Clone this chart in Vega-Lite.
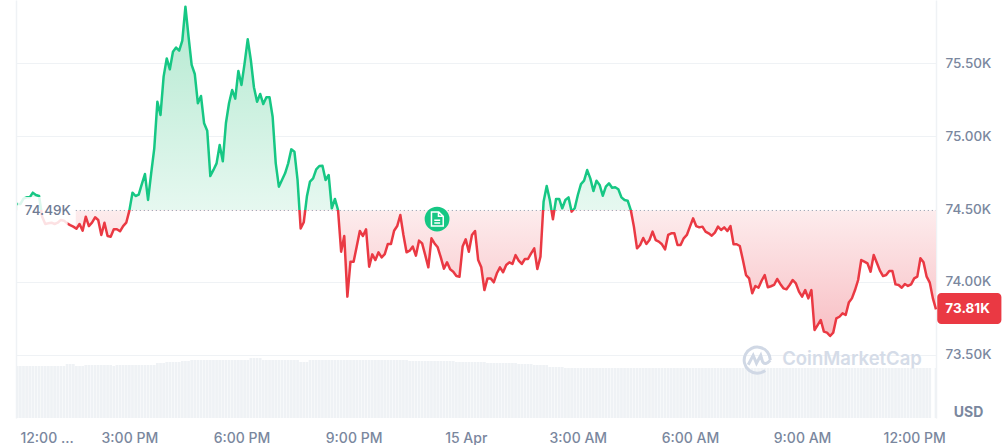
{
  "$schema": "https://vega.github.io/schema/vega-lite/v6.json",
  "width": 920,
  "height": 418,
  "padding": {"left": 16, "top": 0, "right": 70, "bottom": 27},
  "autosize": "none",
  "background": "white",
  "config": {"view": {"stroke": null}, "font": "Inter"},
  "data": {"values": [
    {"t":"2026-04-14T12:00","p":74534,"v":52},{"t":"2026-04-14T12:05","p":74534,"v":52},{"t":"2026-04-14T12:10","p":74571,"v":52},{"t":"2026-04-14T12:15","p":74580,"v":52},
    {"t":"2026-04-14T12:20","p":74580,"v":52},{"t":"2026-04-14T12:25","p":74612,"v":52},{"t":"2026-04-14T12:30","p":74596,"v":52},{"t":"2026-04-14T12:35","p":74589,"v":52},
    {"t":"2026-04-14T12:40","p":74447,"v":52},{"t":"2026-04-14T12:45","p":74397,"v":52},{"t":"2026-04-14T12:50","p":74402,"v":52},{"t":"2026-04-14T12:55","p":74406,"v":52},
    {"t":"2026-04-14T13:00","p":74397,"v":52},{"t":"2026-04-14T13:05","p":74406,"v":52},{"t":"2026-04-14T13:10","p":74425,"v":52},{"t":"2026-04-14T13:15","p":74420,"v":52},
    {"t":"2026-04-14T13:20","p":74402,"v":54},{"t":"2026-04-14T13:25","p":74390,"v":54},{"t":"2026-04-14T13:30","p":74379,"v":54},{"t":"2026-04-14T13:35","p":74365,"v":52},
    {"t":"2026-04-14T13:40","p":74397,"v":52},{"t":"2026-04-14T13:45","p":74351,"v":52},{"t":"2026-04-14T13:50","p":74447,"v":53},{"t":"2026-04-14T13:55","p":74383,"v":53},
    {"t":"2026-04-14T14:00","p":74406,"v":53},{"t":"2026-04-14T14:05","p":74443,"v":53},{"t":"2026-04-14T14:10","p":74425,"v":53},{"t":"2026-04-14T14:15","p":74322,"v":53},
    {"t":"2026-04-14T14:20","p":74406,"v":53},{"t":"2026-04-14T14:25","p":74315,"v":53},{"t":"2026-04-14T14:30","p":74310,"v":53},{"t":"2026-04-14T14:35","p":74361,"v":52},
    {"t":"2026-04-14T14:40","p":74361,"v":53},{"t":"2026-04-14T14:45","p":74347,"v":53},{"t":"2026-04-14T14:50","p":74383,"v":53},{"t":"2026-04-14T14:55","p":74406,"v":53},
    {"t":"2026-04-14T15:00","p":74489,"v":53},{"t":"2026-04-14T15:05","p":74612,"v":53},{"t":"2026-04-14T15:10","p":74589,"v":53},{"t":"2026-04-14T15:15","p":74598,"v":53},
    {"t":"2026-04-14T15:20","p":74671,"v":53},{"t":"2026-04-14T15:25","p":74740,"v":53},{"t":"2026-04-14T15:30","p":74562,"v":53},{"t":"2026-04-14T15:35","p":74745,"v":53},
    {"t":"2026-04-14T15:40","p":74916,"v":53},{"t":"2026-04-14T15:45","p":75236,"v":55},{"t":"2026-04-14T15:50","p":75145,"v":55},{"t":"2026-04-14T15:55","p":75408,"v":55},
    {"t":"2026-04-14T16:00","p":75533,"v":56},{"t":"2026-04-14T16:05","p":75458,"v":56},{"t":"2026-04-14T16:10","p":75579,"v":56},{"t":"2026-04-14T16:15","p":75607,"v":56},
    {"t":"2026-04-14T16:20","p":75586,"v":56},{"t":"2026-04-14T16:25","p":75655,"v":57},{"t":"2026-04-14T16:30","p":75888,"v":57},{"t":"2026-04-14T16:35","p":75682,"v":57},
    {"t":"2026-04-14T16:40","p":75488,"v":58},{"t":"2026-04-14T16:45","p":75426,"v":58},{"t":"2026-04-14T16:50","p":75225,"v":58},{"t":"2026-04-14T16:55","p":75275,"v":58},
    {"t":"2026-04-14T17:00","p":75088,"v":58},{"t":"2026-04-14T17:05","p":75037,"v":58},{"t":"2026-04-14T17:10","p":74726,"v":58},{"t":"2026-04-14T17:15","p":74768,"v":58},
    {"t":"2026-04-14T17:20","p":74813,"v":58},{"t":"2026-04-14T17:25","p":74939,"v":58},{"t":"2026-04-14T17:30","p":74827,"v":58},{"t":"2026-04-14T17:35","p":75088,"v":58},
    {"t":"2026-04-14T17:40","p":75225,"v":58},{"t":"2026-04-14T17:45","p":75316,"v":58},{"t":"2026-04-14T17:50","p":75257,"v":58},{"t":"2026-04-14T17:55","p":75447,"v":58},
    {"t":"2026-04-14T18:00","p":75351,"v":58},{"t":"2026-04-14T18:05","p":75499,"v":58},{"t":"2026-04-14T18:10","p":75664,"v":58},{"t":"2026-04-14T18:15","p":75522,"v":60},
    {"t":"2026-04-14T18:20","p":75335,"v":60},{"t":"2026-04-14T18:25","p":75236,"v":60},{"t":"2026-04-14T18:30","p":75289,"v":60},{"t":"2026-04-14T18:35","p":75220,"v":58},
    {"t":"2026-04-14T18:40","p":75266,"v":58},{"t":"2026-04-14T18:45","p":75266,"v":58},{"t":"2026-04-14T18:50","p":75133,"v":58},{"t":"2026-04-14T18:55","p":74813,"v":58},
    {"t":"2026-04-14T19:00","p":74653,"v":58},{"t":"2026-04-14T19:05","p":74699,"v":58},{"t":"2026-04-14T19:10","p":74745,"v":58},{"t":"2026-04-14T19:15","p":74813,"v":58},
    {"t":"2026-04-14T19:20","p":74909,"v":58},{"t":"2026-04-14T19:25","p":74893,"v":58},{"t":"2026-04-14T19:30","p":74699,"v":58},{"t":"2026-04-14T19:35","p":74367,"v":56},
    {"t":"2026-04-14T19:40","p":74409,"v":56},{"t":"2026-04-14T19:45","p":74585,"v":56},{"t":"2026-04-14T19:50","p":74688,"v":58},{"t":"2026-04-14T19:55","p":74710,"v":58},
    {"t":"2026-04-14T20:00","p":74772,"v":58},{"t":"2026-04-14T20:05","p":74795,"v":58},{"t":"2026-04-14T20:10","p":74797,"v":58},{"t":"2026-04-14T20:15","p":74699,"v":58},
    {"t":"2026-04-14T20:20","p":74733,"v":58},{"t":"2026-04-14T20:25","p":74505,"v":58},{"t":"2026-04-14T20:30","p":74569,"v":58},{"t":"2026-04-14T20:35","p":74493,"v":58},
    {"t":"2026-04-14T20:40","p":74207,"v":58},{"t":"2026-04-14T20:45","p":74315,"v":58},{"t":"2026-04-14T20:50","p":73899,"v":58},{"t":"2026-04-14T20:55","p":74139,"v":58},
    {"t":"2026-04-14T21:00","p":74139,"v":58},{"t":"2026-04-14T21:05","p":74242,"v":58},{"t":"2026-04-14T21:10","p":74349,"v":58},{"t":"2026-04-14T21:15","p":74315,"v":58},
    {"t":"2026-04-14T21:20","p":74361,"v":58},{"t":"2026-04-14T21:25","p":74104,"v":58},{"t":"2026-04-14T21:30","p":74189,"v":58},{"t":"2026-04-14T21:35","p":74150,"v":58},
    {"t":"2026-04-14T21:40","p":74203,"v":58},{"t":"2026-04-14T21:45","p":74168,"v":58},{"t":"2026-04-14T21:50","p":74191,"v":58},{"t":"2026-04-14T21:55","p":74260,"v":58},
    {"t":"2026-04-14T22:00","p":74260,"v":58},{"t":"2026-04-14T22:05","p":74351,"v":58},{"t":"2026-04-14T22:10","p":74383,"v":58},{"t":"2026-04-14T22:15","p":74459,"v":58},
    {"t":"2026-04-14T22:20","p":74322,"v":58},{"t":"2026-04-14T22:25","p":74203,"v":58},{"t":"2026-04-14T22:30","p":74214,"v":57},{"t":"2026-04-14T22:35","p":74242,"v":57},
    {"t":"2026-04-14T22:40","p":74180,"v":57},{"t":"2026-04-14T22:45","p":74283,"v":57},{"t":"2026-04-14T22:50","p":74264,"v":57},{"t":"2026-04-14T22:55","p":74184,"v":57},
    {"t":"2026-04-14T23:00","p":74100,"v":57},{"t":"2026-04-14T23:05","p":74299,"v":57},{"t":"2026-04-14T23:10","p":74264,"v":57},{"t":"2026-04-14T23:15","p":74237,"v":57},
    {"t":"2026-04-14T23:20","p":74168,"v":57},{"t":"2026-04-14T23:25","p":74091,"v":57},{"t":"2026-04-14T23:30","p":74134,"v":57},{"t":"2026-04-14T23:35","p":74086,"v":57},
    {"t":"2026-04-14T23:40","p":74070,"v":57},{"t":"2026-04-14T23:45","p":74040,"v":56},{"t":"2026-04-14T23:50","p":74036,"v":56},{"t":"2026-04-14T23:55","p":74242,"v":56},
    {"t":"2026-04-15T00:00","p":74292,"v":56},{"t":"2026-04-15T00:05","p":74207,"v":56},{"t":"2026-04-15T00:10","p":74322,"v":56},{"t":"2026-04-15T00:15","p":74349,"v":56},
    {"t":"2026-04-15T00:20","p":74150,"v":56},{"t":"2026-04-15T00:25","p":74100,"v":56},{"t":"2026-04-15T00:30","p":73944,"v":56},{"t":"2026-04-15T00:35","p":74024,"v":55},
    {"t":"2026-04-15T00:40","p":74024,"v":55},{"t":"2026-04-15T00:45","p":73997,"v":55},{"t":"2026-04-15T00:50","p":74059,"v":55},{"t":"2026-04-15T00:55","p":74100,"v":55},
    {"t":"2026-04-15T01:00","p":74066,"v":55},{"t":"2026-04-15T01:05","p":74116,"v":55},{"t":"2026-04-15T01:10","p":74134,"v":55},{"t":"2026-04-15T01:15","p":74123,"v":55},
    {"t":"2026-04-15T01:20","p":74184,"v":55},{"t":"2026-04-15T01:25","p":74146,"v":54},{"t":"2026-04-15T01:30","p":74123,"v":54},{"t":"2026-04-15T01:35","p":74157,"v":54},
    {"t":"2026-04-15T01:40","p":74157,"v":54},{"t":"2026-04-15T01:45","p":74196,"v":54},{"t":"2026-04-15T01:50","p":74230,"v":53},{"t":"2026-04-15T01:55","p":74088,"v":53},
    {"t":"2026-04-15T02:00","p":74173,"v":53},{"t":"2026-04-15T02:05","p":74550,"v":53},{"t":"2026-04-15T02:10","p":74658,"v":53},{"t":"2026-04-15T02:15","p":74562,"v":51},
    {"t":"2026-04-15T02:20","p":74429,"v":51},{"t":"2026-04-15T02:25","p":74569,"v":51},{"t":"2026-04-15T02:30","p":74569,"v":51},{"t":"2026-04-15T02:35","p":74505,"v":51},
    {"t":"2026-04-15T02:40","p":74562,"v":50},{"t":"2026-04-15T02:45","p":74580,"v":50},{"t":"2026-04-15T02:50","p":74482,"v":50},{"t":"2026-04-15T02:55","p":74505,"v":50},
    {"t":"2026-04-15T03:00","p":74596,"v":50},{"t":"2026-04-15T03:05","p":74671,"v":50},{"t":"2026-04-15T03:10","p":74694,"v":50},{"t":"2026-04-15T03:15","p":74767,"v":50},
    {"t":"2026-04-15T03:20","p":74710,"v":50},{"t":"2026-04-15T03:25","p":74623,"v":50},{"t":"2026-04-15T03:30","p":74694,"v":50},{"t":"2026-04-15T03:35","p":74665,"v":50},
    {"t":"2026-04-15T03:40","p":74591,"v":50},{"t":"2026-04-15T03:45","p":74653,"v":50},{"t":"2026-04-15T03:50","p":74676,"v":50},{"t":"2026-04-15T03:55","p":74646,"v":50},
    {"t":"2026-04-15T04:00","p":74649,"v":50},{"t":"2026-04-15T04:05","p":74635,"v":50},{"t":"2026-04-15T04:10","p":74580,"v":50},{"t":"2026-04-15T04:15","p":74562,"v":50},
    {"t":"2026-04-15T04:20","p":74557,"v":50},{"t":"2026-04-15T04:25","p":74493,"v":50},{"t":"2026-04-15T04:30","p":74379,"v":50},{"t":"2026-04-15T04:35","p":74230,"v":50},
    {"t":"2026-04-15T04:40","p":74253,"v":50},{"t":"2026-04-15T04:45","p":74301,"v":50},{"t":"2026-04-15T04:50","p":74260,"v":50},{"t":"2026-04-15T04:55","p":74287,"v":50},
    {"t":"2026-04-15T05:00","p":74345,"v":50},{"t":"2026-04-15T05:05","p":74287,"v":50},{"t":"2026-04-15T05:10","p":74276,"v":50},{"t":"2026-04-15T05:15","p":74258,"v":50},
    {"t":"2026-04-15T05:20","p":74223,"v":50},{"t":"2026-04-15T05:25","p":74322,"v":50},{"t":"2026-04-15T05:30","p":74333,"v":50},{"t":"2026-04-15T05:35","p":74333,"v":50},
    {"t":"2026-04-15T05:40","p":74253,"v":50},{"t":"2026-04-15T05:45","p":74253,"v":50},{"t":"2026-04-15T05:50","p":74299,"v":50},{"t":"2026-04-15T05:55","p":74322,"v":50},
    {"t":"2026-04-15T06:00","p":74379,"v":50},{"t":"2026-04-15T06:05","p":74436,"v":50},{"t":"2026-04-15T06:10","p":74383,"v":50},{"t":"2026-04-15T06:15","p":74374,"v":50},
    {"t":"2026-04-15T06:20","p":74379,"v":50},{"t":"2026-04-15T06:25","p":74345,"v":50},{"t":"2026-04-15T06:30","p":74333,"v":50},{"t":"2026-04-15T06:35","p":74317,"v":50},
    {"t":"2026-04-15T06:40","p":74338,"v":50},{"t":"2026-04-15T06:45","p":74379,"v":50},{"t":"2026-04-15T06:50","p":74356,"v":50},{"t":"2026-04-15T06:55","p":74374,"v":50},
    {"t":"2026-04-15T07:00","p":74349,"v":50},{"t":"2026-04-15T07:05","p":74383,"v":50},{"t":"2026-04-15T07:10","p":74258,"v":50},{"t":"2026-04-15T07:15","p":74258,"v":50},
    {"t":"2026-04-15T07:20","p":74246,"v":50},{"t":"2026-04-15T07:25","p":74150,"v":50},{"t":"2026-04-15T07:30","p":74047,"v":50},{"t":"2026-04-15T07:35","p":74024,"v":50},
    {"t":"2026-04-15T07:40","p":73922,"v":50},{"t":"2026-04-15T07:45","p":73972,"v":50},{"t":"2026-04-15T07:50","p":73960,"v":50},{"t":"2026-04-15T07:55","p":74008,"v":50},
    {"t":"2026-04-15T08:00","p":74047,"v":50},{"t":"2026-04-15T08:05","p":73963,"v":50},{"t":"2026-04-15T08:10","p":73970,"v":50},{"t":"2026-04-15T08:15","p":73979,"v":50},
    {"t":"2026-04-15T08:20","p":74020,"v":50},{"t":"2026-04-15T08:25","p":73986,"v":50},{"t":"2026-04-15T08:30","p":73956,"v":50},{"t":"2026-04-15T08:35","p":73949,"v":50},
    {"t":"2026-04-15T08:40","p":73979,"v":50},{"t":"2026-04-15T08:45","p":74013,"v":50},{"t":"2026-04-15T08:50","p":73990,"v":50},{"t":"2026-04-15T08:55","p":73933,"v":50},
    {"t":"2026-04-15T09:00","p":73899,"v":50},{"t":"2026-04-15T09:05","p":73944,"v":50},{"t":"2026-04-15T09:10","p":73887,"v":50},{"t":"2026-04-15T09:15","p":73944,"v":50},
    {"t":"2026-04-15T09:20","p":73670,"v":50},{"t":"2026-04-15T09:25","p":73704,"v":50},{"t":"2026-04-15T09:30","p":73739,"v":50},{"t":"2026-04-15T09:35","p":73659,"v":50},
    {"t":"2026-04-15T09:40","p":73652,"v":50},{"t":"2026-04-15T09:45","p":73629,"v":50},{"t":"2026-04-15T09:50","p":73652,"v":50},{"t":"2026-04-15T09:55","p":73750,"v":50},
    {"t":"2026-04-15T10:00","p":73761,"v":50},{"t":"2026-04-15T10:05","p":73784,"v":50},{"t":"2026-04-15T10:10","p":73773,"v":50},{"t":"2026-04-15T10:15","p":73858,"v":50},
    {"t":"2026-04-15T10:20","p":73887,"v":50},{"t":"2026-04-15T10:25","p":73944,"v":50},{"t":"2026-04-15T10:30","p":74013,"v":50},{"t":"2026-04-15T10:35","p":74150,"v":50},
    {"t":"2026-04-15T10:40","p":74139,"v":50},{"t":"2026-04-15T10:45","p":74127,"v":50},{"t":"2026-04-15T10:50","p":74070,"v":50},{"t":"2026-04-15T10:55","p":74184,"v":50},
    {"t":"2026-04-15T11:00","p":74132,"v":50},{"t":"2026-04-15T11:05","p":74077,"v":50},{"t":"2026-04-15T11:10","p":74040,"v":50},{"t":"2026-04-15T11:15","p":74047,"v":50},
    {"t":"2026-04-15T11:20","p":74075,"v":50},{"t":"2026-04-15T11:25","p":74075,"v":50},{"t":"2026-04-15T11:30","p":73983,"v":50},{"t":"2026-04-15T11:35","p":73979,"v":50},
    {"t":"2026-04-15T11:40","p":73960,"v":50},{"t":"2026-04-15T11:45","p":73986,"v":50},{"t":"2026-04-15T11:50","p":73972,"v":50},{"t":"2026-04-15T11:55","p":73983,"v":50},
    {"t":"2026-04-15T12:00","p":74024,"v":50},{"t":"2026-04-15T12:05","p":74036,"v":50},{"t":"2026-04-15T12:10","p":74162,"v":50},{"t":"2026-04-15T12:15","p":74134,"v":50},
    {"t":"2026-04-15T12:20","p":74036,"v":50},{"t":"2026-04-15T12:25","p":73995,"v":50},{"t":"2026-04-15T12:30","p":73887},{"t":"2026-04-15T12:35","p":73812,"v":50}
  ]},
  "encoding": {
    "x": {
      "field": "t",
      "type": "temporal",
      "scale": {"domain": ["2026-04-14T11:58", "2026-04-15T12:35"], "padding": 0},
      "axis": {
        "title": null,
        "values": ["2026-04-14T12:47", "2026-04-14T15:00", "2026-04-14T18:00", "2026-04-14T21:00", "2026-04-15T00:00", "2026-04-15T03:00", "2026-04-15T06:00", "2026-04-15T09:00", "2026-04-15T12:00"],
        "labelExpr": "minutes(datum.value) == 47 ? '12:00 ...' : hours(datum.value) == 0 ? '15 Apr' : timeFormat(datum.value, '%-I:%M %p')",
        "domain": false,
        "ticks": false,
        "grid": false,
        "labelOverlap": false,
        "labelBound": false,
        "labelFlush": false,
        "labelPadding": 13,
        "labelFont": "Inter",
        "labelFontSize": 14,
        "labelFontWeight": 500,
        "labelColor": "#7a879e"
      }
    }
  },
  "layer": [
    {
      "mark": {"type": "bar", "width": 2.7, "color": "#eff2f5", "clip": true},
      "encoding": {
        "y": {
          "field": "v",
          "type": "quantitative",
          "scale": {"domain": [0, 418]},
          "axis": {"orient": "left", "title": null, "labels": false, "ticks": false, "grid": false, "domain": true, "domainColor": "#eff2f5", "domainWidth": 1.5}
        }
      }
    },
    {
      "encoding": {
        "y": {
          "field": "p",
          "type": "quantitative",
          "scale": {"domain": [73066.5, 75933.5], "nice": false, "zero": false},
          "axis": {
            "orient": "right",
            "title": "USD",
            "titleAngle": 0,
            "titleX": 32,
            "titleY": 412,
            "titleAlign": "center",
            "titleBaseline": "middle",
            "titleFont": "Inter",
            "titleFontSize": 14,
            "titleFontWeight": 700,
            "titleColor": "#7a879e",
            "values": [73500, 74000, 74500, 75000, 75500],
            "labelExpr": "format(datum.value / 1000, '.2f') + 'K'",
            "labelFont": "Inter",
            "labelFontSize": 13.5,
            "labelFontWeight": 500,
            "labelColor": "#7a879e",
            "labelPadding": 9,
            "ticks": false,
            "domain": true,
            "domainColor": "#eff2f5",
            "domainWidth": 1.5,
            "grid": true,
            "gridWidth": 1,
            "gridColor": {"condition": {"test": "datum.value == 74500", "value": "transparent"}, "value": "#eff2f5"}
          }
        }
      },
      "layer": [
        {
          "mark": {
            "type": "area",
            "fill": {
              "gradient": "linear", "x1": 0, "y1": 0, "x2": 0, "y2": 1,
              "stops": [
                {"offset": 0, "color": "#b3e9d0"},
                {"offset": 0.618, "color": "#e6f8f0"},
                {"offset": 0.618, "color": "#fdeced"},
                {"offset": 1, "color": "#f8bfc4"}
              ]
            }
          },
          "encoding": {"y2": {"datum": 74490}}
        },
        {
          "data": {"values": [{"t": "2026-04-14T12:01", "t2": "2026-04-14T13:34", "p": 74582, "p2": 74370}]},
          "mark": {"type": "rect", "fill": "white", "opacity": 0.88, "cornerRadius": 4},
          "encoding": {"x2": {"field": "t2"}, "y2": {"field": "p2"}}
        },
        {
          "data": {"values": [{"t": "2026-04-14T13:34", "t2": "2026-04-15T12:35", "p": 74490}]},
          "mark": {"type": "rule", "stroke": "#8a94a6", "strokeWidth": 1, "strokeDash": [1, 3]},
          "encoding": {"x2": {"field": "t2"}}
        },
        {
          "mark": {
            "type": "line",
            "strokeWidth": 2.5,
            "strokeJoin": "round",
            "stroke": {
              "gradient": "linear", "x1": 0, "y1": 0, "x2": 0, "y2": 1,
              "stops": [
                {"offset": 0, "color": "#16c784"},
                {"offset": 0.618, "color": "#16c784"},
                {"offset": 0.618, "color": "#ea3943"},
                {"offset": 1, "color": "#ea3943"}
              ]
            }
          }
        },
        {
          "data": {"values": [{"t": "2026-04-14T12:01", "t2": "2026-04-14T13:21", "p": 74582, "p2": 74370}]},
          "mark": {"type": "rect", "fill": "white", "opacity": 0.85, "cornerRadius": 4},
          "encoding": {"x2": {"field": "t2"}, "y2": {"field": "p2"}}
        },
        {
          "data": {"values": [{"t": "2026-04-14T12:49", "p": 74490, "label": "74.49K"}]},
          "mark": {"type": "text", "font": "Inter", "fontSize": 13.5, "fontWeight": 500, "color": "#6f7b93", "align": "center", "baseline": "middle", "dy": 1},
          "encoding": {"text": {"field": "label"}}
        },
        {
          "data": {"values": [{"t": "2026-04-15T08:28", "p": 73471, "label": "CoinMarketCap"}]},
          "mark": {"type": "text", "font": "Inter", "fontSize": 18.5, "fontWeight": 600, "color": "#d5dce8", "align": "left", "baseline": "middle"},
          "encoding": {"text": {"field": "label"}}
        },
        {
          "data": {"values": [{"t": "2026-04-15T07:48", "p": 73464}]},
          "mark": {
            "type": "point",
            "shape": "M0.55,0.72 A0.9,0.9 0 1 1 0.9,0 M-0.62,0.32 L-0.28,-0.32 L-0.05,0.22 L0.24,-0.32 L0.36,0.1 Q0.55,0.42 0.9,0.02",
            "size": 841,
            "filled": false,
            "stroke": "#d0d8e5",
            "strokeWidth": 3,
            "opacity": 1
          }
        },
        {
          "data": {"values": [{"t": "2026-04-14T23:14", "p": 74431}]},
          "mark": {"type": "point", "shape": "circle", "size": 616, "filled": true, "fill": "#16c784", "opacity": 1}
        },
        {
          "data": {"values": [{"t": "2026-04-14T23:14", "p": 74431}]},
          "mark": {
            "type": "point",
            "shape": "M-0.4,-0.5 L0.12,-0.5 L0.44,-0.2 L0.44,0.5 L-0.4,0.5 Z M0.1,-0.5 L0.1,-0.2 L0.44,-0.2 M-0.2,0.08 L0.22,0.08 M-0.2,0.28 L0.22,0.28",
            "size": 784,
            "filled": false,
            "stroke": "white",
            "strokeWidth": 1.5,
            "opacity": 1
          }
        },
        {
          "data": {"values": [{"t": "2026-04-15T12:37", "t2": "2026-04-15T14:20", "p": 73924, "p2": 73711}]},
          "mark": {"type": "rect", "fill": "#ea3943", "cornerRadius": 4},
          "encoding": {"x2": {"field": "t2"}, "y2": {"field": "p2"}}
        },
        {
          "data": {"values": [{"t": "2026-04-15T12:50", "p": 73815, "label": "73.81K"}]},
          "mark": {"type": "text", "font": "Inter", "fontSize": 13.5, "fontWeight": 700, "color": "white", "align": "left", "baseline": "middle"},
          "encoding": {"text": {"field": "label"}}
        }
      ]
    }
  ],
  "resolve": {"scale": {"y": "independent"}, "axis": {"y": "independent"}}
}
